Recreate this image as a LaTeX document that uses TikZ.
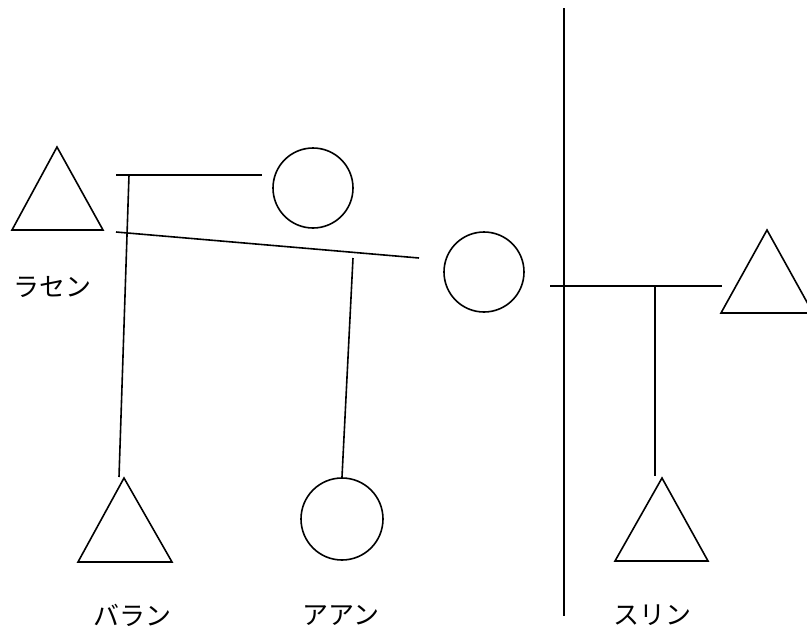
\documentclass[tikz,border=0pt]{standalone}
\usepackage{fontspec}
\newfontfamily\jpfont{Noto Sans CJK JP}
\begin{document}
\begin{tikzpicture}[x=1pt,y=-1pt,line width=1.6pt,
  ring/.style={draw,circle,inner sep=0pt,minimum size=80pt,line width=1.6pt},
  tri/.style={draw,line width=1.6pt,line join=miter},
  link/.style={draw,line width=1.6pt},
  wall/.style={draw,line width=2.8pt},
  lab/.style={font=\jpfont\fontsize{26}{26}\selectfont,inner sep=0pt}]
\useasboundingbox (0,0) rectangle (807,627);
\clip (0,0) rectangle (807,627);
% triangles
\path[tri] (12,230) coordinate (t1l) -- (57,147) coordinate (t1a) -- (103,230) coordinate (t1r) -- cycle;
\path[tri] (78,562) coordinate (t2l) -- (124,478) coordinate (t2a) -- (172,562) coordinate (t2r) -- cycle;
\path[tri] (615,561) coordinate (t3l) -- (662,478) coordinate (t3a) -- (708,561) coordinate (t3r) -- cycle;
\path[tri] (721,313) coordinate (t4l) -- (767,230) coordinate (t4a) -- (813,313) coordinate (t4r) -- cycle;
% circles
\node[ring] (c1) at (313,188) {};
\node[ring] (c2) at (484,272) {};
\node[ring,minimum size=82pt] (c3) at (342,519) {};
% line end points
\coordinate (h1a) at (116,175);
\coordinate (h1b) at (262,175);
\coordinate (v1a) at (129,175);
\coordinate (v1b) at (119,477);
\coordinate (s1a) at (116,232);
\coordinate (s1b) at (419,258);
\coordinate (v2a) at (353,258);
\coordinate (v2b) at (342,477);
\coordinate (wa) at (564,8);
\coordinate (wb) at (564,616);
\coordinate (h2a) at (550,286);
\coordinate (h2b) at (722,286);
\coordinate (v3a) at (655,286);
\coordinate (v3b) at (655,476);
% connectors
\draw[link] (h1a) -- (h1b);
\draw[link] (v1a) -- (v1b);
\draw[link] (s1a) -- (s1b);
\draw[link] (v2a) -- (v2b);
\draw[wall] (wa) -- (wb);
\draw[link] (h2a) -- (h2b);
\draw[link] (v3a) -- (v3b);
% labels
\node[lab] (l1) at (52,287) {ラセン};
\node[lab] (l2) at (132,615) {バラン};
\node[lab] (l3) at (341,615) {アアン};
\node[lab] (l4) at (652,615) {スリン};
\end{tikzpicture}
\end{document}
